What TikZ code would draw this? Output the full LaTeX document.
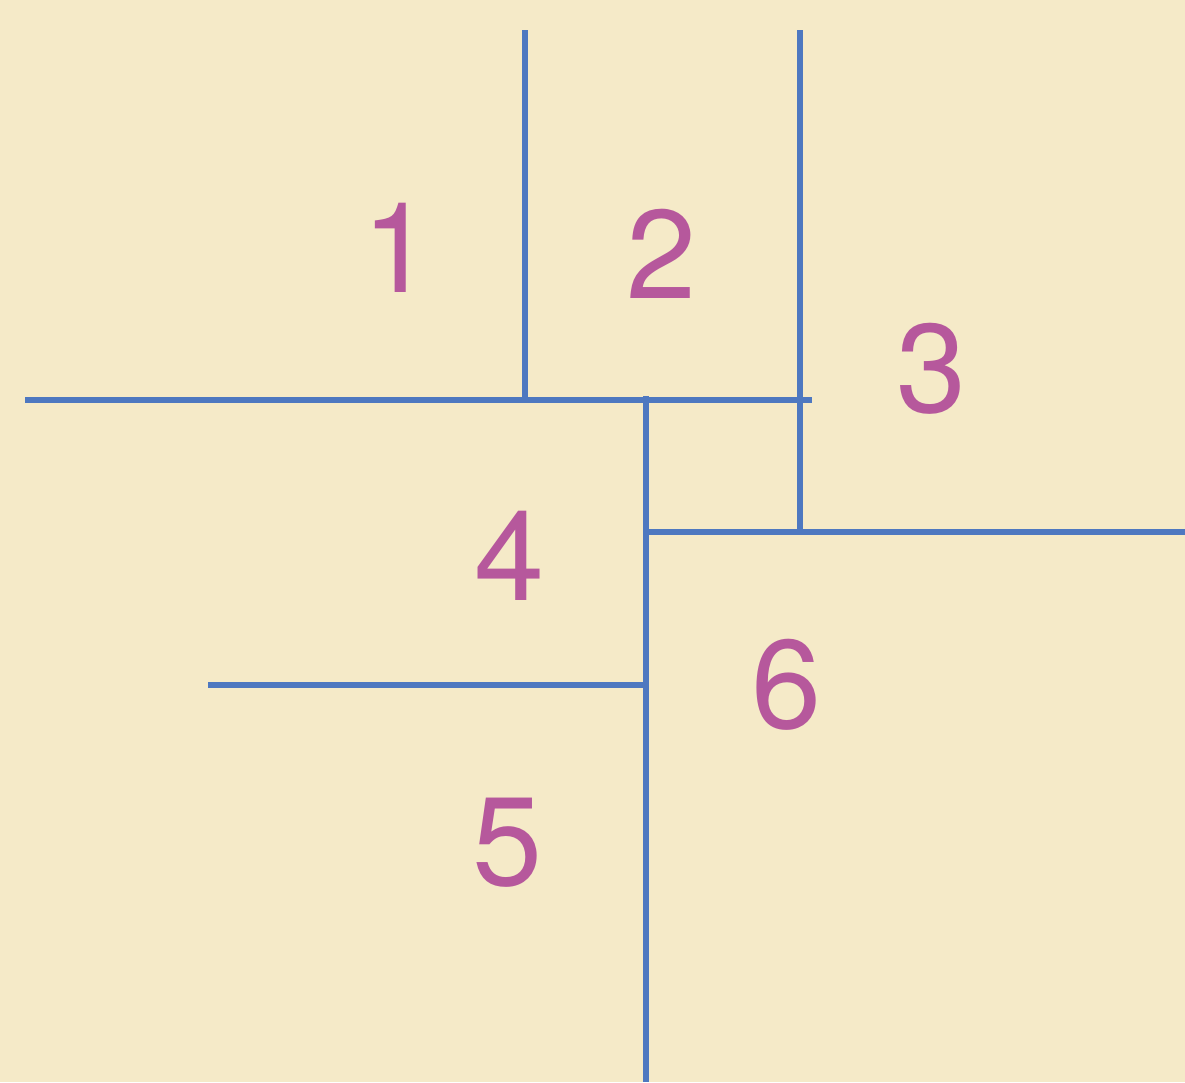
\documentclass[tikz,border=0pt]{standalone}
\usepackage{fontspec}
\setmainfont{TeX Gyre Heros}
\definecolor{bg}{RGB}{245,234,200}
\definecolor{lineblue}{RGB}{78,120,192}
\definecolor{num}{RGB}{182,88,156}
\begin{document}
\begin{tikzpicture}[x=1pt,y=-1pt,
  wall/.style={draw=lineblue,line width=5.5pt},
  numlabel/.style={text=num,inner sep=0pt,anchor=base,font=\fontsize{126}{126}\selectfont}]
\fill[bg] (0,0) rectangle (1185,1082);
\useasboundingbox (0,0) rectangle (1185,1082);
% coordinates
\coordinate (v1t) at (525,30);
\coordinate (v1b) at (525,400);
\coordinate (v2t) at (800,30);
\coordinate (v2b) at (800,530);
\coordinate (h1l) at (25,400);
\coordinate (h1r) at (812,400);
\coordinate (v3t) at (646,396);
\coordinate (v3b) at (646,1082);
\coordinate (h2l) at (646,532);
\coordinate (h2r) at (1185,532);
\coordinate (h3l) at (208,685);
\coordinate (h3r) at (646,685);
% lines
\draw[wall] (v1t) -- (v1b);
\draw[wall] (v2t) -- (v2b);
\draw[wall] (h1l) -- (h1r);
\draw[wall] (v3t) -- (v3b);
\draw[wall] (h2l) -- (h2r);
\draw[wall] (h3l) -- (h3r);
% numbers
\node[numlabel] (n1) at (398,292) {1};
\node[numlabel] (n2) at (662,298) {2};
\node[numlabel] (n3) at (932,412) {3};
\node[numlabel] (n4) at (510,600) {4};
\node[numlabel] (n5) at (508,885) {5};
\node[numlabel] (n6) at (787,728) {6};
\end{tikzpicture}
\end{document}
